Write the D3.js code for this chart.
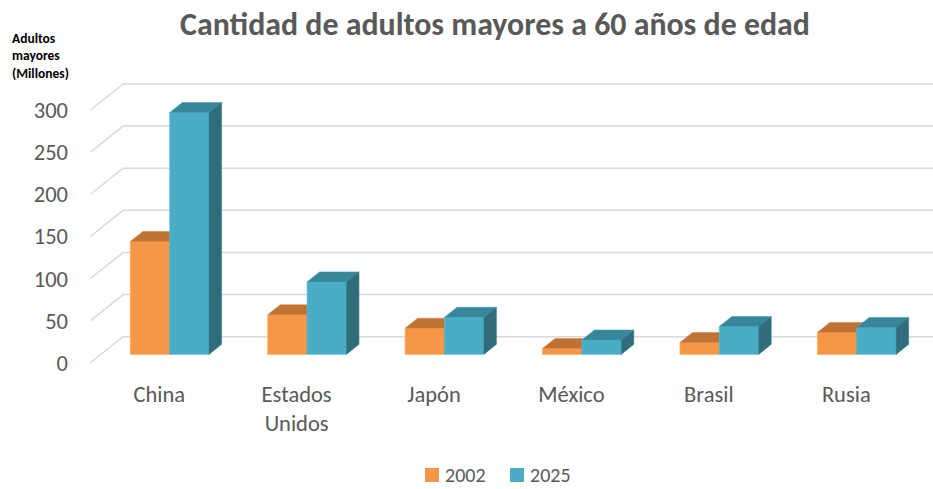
<!DOCTYPE html>
<html>
<head>
<meta charset="utf-8">
<script src="https://cdnjs.cloudflare.com/ajax/libs/d3/7.8.5/d3.min.js"></script>
<style>
  body { margin: 0; background: #fff; }
  svg { display: block; }
  text { font-family: Carlito, Lato, "Open Sans", sans-serif; }
</style>
</head>
<body>
<svg></svg>
<script>
let width = 933, height = 489;

// datos (millones de personas)
let paises = ["China", "Estados Unidos", "Japón", "México", "Brasil", "Rusia"];
let series = ["2002", "2025"];
let v2002 = [134, 47, 31, 7, 14, 26];
let v2025 = [287, 86, 44, 17, 33, 32];
let yTicks = [0, 50, 100, 150, 200, 250, 300];
let colores = ["#F79646", "#4BACC6"];
let topes = ["#BE7234", "#38869A"];
let lados = ["#A5622C", "#2F6C7C"];

let svg = d3.select("svg").attr("width", width).attr("height", height);

// escala del plano frontal + vector de profundidad (vista oblicua tipo Excel 3D)
let x0 = d3.scaleBand().domain(paises).range([90.5, 915]).paddingInner(0.427).paddingOuter(0.2135);
let x1 = d3.scaleBand().domain(series).range([0, x0.bandwidth()]);
let y = d3.scaleLinear().domain([0, 300]).range([362.7, 110]);
let DX = 32.6, DY = -26;
let d0 = 0.32, d1 = 0.705;

function pt(xw, v, d) {
  return [xw + DX * d, y(v) + DY * d];
}
function poly(pts) {
  return "M" + pts.map(p => p.join(",")).join("L") + "Z";
}

// lineas de division (pared del fondo + diagonal del piso)
let grid = svg.append("g").attr("class", "grid");
grid.selectAll("path")
  .data(yTicks)
  .enter().append("path")
  .attr("d", function(t) {
    let a = pt(x0.range()[0], t, 0);
    let b = pt(x0.range()[0], t, 1);
    let c = pt(x0.range()[1], t, 1);
    return "M" + a + "L" + b + "L" + c;
  })
  .attr("fill", "none")
  .attr("stroke", "#d9d9d9")
  .attr("stroke-width", 1.5);

// etiquetas del eje y
svg.append("g").selectAll("text")
  .data(yTicks)
  .enter().append("text")
  .attr("x", 68)
  .attr("y", d => y(d))
  .attr("dy", "0.36em")
  .attr("text-anchor", "end")
  .attr("font-size", 22.5)
  .attr("fill", "#595959")
  .text(d => d);

// barras 3D
let barras = [];
paises.forEach(function(p, i) {
  barras.push({ pais: p, serie: 0, valor: v2002[i] });
  barras.push({ pais: p, serie: 1, valor: v2025[i] });
});

let bar = svg.append("g").selectAll("g")
  .data(barras)
  .enter().append("g");

bar.append("path")
  .attr("d", function(d) {
    let xa = x0(d.pais) + x1(series[d.serie]), xb = xa + x1.bandwidth();
    return poly([pt(xa, 0, d0), pt(xb, 0, d0), pt(xb, d.valor, d0), pt(xa, d.valor, d0)]);
  })
  .attr("fill", d => colores[d.serie])
  .attr("stroke", d => d3.color(colores[d.serie]).brighter(0.4))
  .attr("stroke-width", 0.6);

bar.append("path")
  .attr("d", function(d) {
    let xa = x0(d.pais) + x1(series[d.serie]), xb = xa + x1.bandwidth();
    return poly([pt(xa, d.valor, d0), pt(xb, d.valor, d0), pt(xb, d.valor, d1), pt(xa, d.valor, d1)]);
  })
  .attr("fill", d => topes[d.serie])
  .attr("stroke", d => d3.color(topes[d.serie]).brighter(0.4))
  .attr("stroke-width", 0.6);

bar.append("path")
  .attr("d", function(d) {
    let xb = x0(d.pais) + x1(series[d.serie]) + x1.bandwidth();
    return poly([pt(xb, 0, d0), pt(xb, 0, d1), pt(xb, d.valor, d1), pt(xb, d.valor, d0)]);
  })
  .attr("fill", d => lados[d.serie])
  .attr("stroke", d => d3.color(lados[d.serie]).brighter(0.4))
  .attr("stroke-width", 0.6);

// etiquetas de categorias (se parten en dos lineas si hace falta)
let cat = svg.append("g").selectAll("text")
  .data(paises)
  .enter().append("text")
  .attr("x", d => x0(d) + x0.bandwidth() / 2)
  .attr("y", 401.5)
  .attr("text-anchor", "middle")
  .attr("font-size", 22.5)
  .attr("fill", "#595959");
cat.selectAll("tspan")
  .data(d => d.split(" "))
  .enter().append("tspan")
  .attr("x", function() { return d3.select(this.parentNode).attr("x"); })
  .attr("dy", (d, i) => i ? 29 : 0)
  .text(d => d);

// titulo
let titulo = svg.append("text")
  .attr("x", 495)
  .attr("y", 35)
  .attr("text-anchor", "middle")
  .attr("font-size", 30)
  .attr("font-weight", "bold")
  .attr("fill", "#595959")
  .text("Cantidad de adultos mayores a 60 años de edad");
let tw = titulo.node().getComputedTextLength();
titulo.attr("font-size", 30 * 630 / tw);

// titulo del eje
svg.append("g").selectAll("text")
  .data(["Adultos", "mayores", "(Millones)"])
  .enter().append("text")
  .attr("x", 12)
  .attr("y", (d, i) => 42.5 + i * 17.8)
  .attr("font-size", 13.5)
  .attr("font-weight", "bold")
  .attr("fill", "#000")
  .text(d => d);

// leyenda
let ley = svg.append("g").selectAll("g")
  .data(series)
  .enter().append("g")
  .attr("transform", (d, i) => `translate(${425 + i * 85},468)`);
ley.append("rect")
  .attr("width", 14)
  .attr("height", 14)
  .attr("fill", (d, i) => colores[i]);
ley.append("text")
  .attr("x", 20)
  .attr("y", 7)
  .attr("dy", "0.35em")
  .attr("font-size", 20)
  .attr("fill", "#595959")
  .text(d => d);
</script>
</body>
</html>
